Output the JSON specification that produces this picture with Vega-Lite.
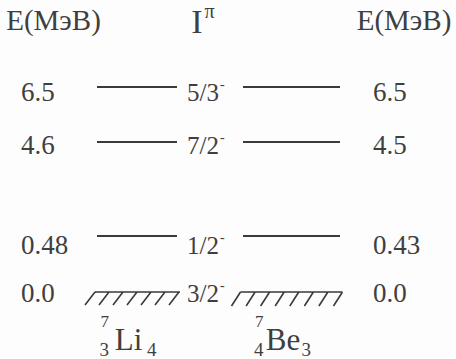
{
  "$schema": "https://vega.github.io/schema/vega-lite/v6.json",
  "width": 456,
  "height": 359,
  "autosize": {"type": "none"},
  "padding": 0,
  "background": "#fdfdfd",
  "config": {
    "view": {"stroke": null},
    "text": {"font": "'Liberation Serif', 'Times New Roman', serif", "color": "#3f3f3f", "baseline": "alphabetic"}
  },
  "datasets": {
    "levels": [
      {"nucleus": "Li", "level": 0, "E": "0.0", "Jp": "3/2", "parity": "-"},
      {"nucleus": "Li", "level": 1, "E": "0.48", "Jp": "1/2", "parity": "-"},
      {"nucleus": "Li", "level": 2, "E": "4.6", "Jp": "7/2", "parity": "-"},
      {"nucleus": "Li", "level": 3, "E": "6.5", "Jp": "5/3", "parity": "-"},
      {"nucleus": "Be", "level": 0, "E": "0.0", "Jp": "3/2", "parity": "-"},
      {"nucleus": "Be", "level": 1, "E": "0.43", "Jp": "1/2", "parity": "-"},
      {"nucleus": "Be", "level": 2, "E": "4.5", "Jp": "7/2", "parity": "-"},
      {"nucleus": "Be", "level": 3, "E": "6.5", "Jp": "5/3", "parity": "-"}
    ],
    "nuclei": [
      {"nucleus": "Li", "symbol": "Li", "A": "7", "Z": "3", "N": "4"},
      {"nucleus": "Be", "symbol": "Be", "A": "7", "Z": "4", "N": "3"}
    ],
    "headers": [
      {"nucleus": "Li", "title": "E(МэВ)"},
      {"nucleus": "Be", "title": "E(МэВ)"}
    ],
    "spin": [
      {"nucleus": "Li", "symbol": "I", "sup": "π"}
    ]
  },
  "encoding": {
    "x": {
      "field": "nucleus",
      "type": "nominal",
      "scale": {"type": "point", "domain": ["Li", "Be"], "range": [137, 291.5], "padding": 0},
      "axis": null
    }
  },
  "resolve": {"scale": {"y": "independent"}},
  "layer": [
    {
      "data": {"name": "levels"},
      "transform": [{"filter": "datum.level > 0"}],
      "mark": {"type": "tick", "orient": "horizontal", "thickness": 1.8, "color": "#3a3a3a", "opacity": 1},
      "encoding": {
        "y": {"field": "level", "type": "quantitative", "axis": null,
              "scale": {"domain": [0, 1, 2, 3], "range": [292, 236, 142, 87], "zero": false, "nice": false}},
        "size": {"field": "nucleus", "type": "nominal", "legend": null,
                 "scale": {"domain": ["Li", "Be"], "range": [80, 97]}}
      }
    },
    {
      "data": {"name": "levels"},
      "transform": [{"filter": "datum.level == 0"}],
      "mark": {"type": "point", "filled": false, "size": 4, "stroke": "#3a3a3a", "strokeWidth": 1.6, "opacity": 1},
      "encoding": {
        "y": {"field": "level", "type": "quantitative", "axis": null,
              "scale": {"domain": [0, 1, 2, 3], "range": [292, 236, 142, 87], "zero": false, "nice": false}},
        "shape": {"field": "nucleus", "type": "nominal", "legend": null,
                  "scale": {"domain": ["Li", "Be"], "range": [
                    "M-42,0H43M-42,0L-52,13M-28,0L-38,13M-14,0L-24,13M0,0L-10,13M14,0L4,13M28,0L18,13M42,0L32,13",
                    "M-51,0H51M-51,0L-60,14M-36.4,0L-45.4,14M-21.9,0L-30.9,14M-7.3,0L-16.3,14M7.3,0L-1.7,14M21.9,0L12.9,14M36.4,0L27.4,14M51,0L42,14"
                  ]}}
      }
    },
    {
      "data": {"name": "levels"},
      "transform": [{"filter": "datum.nucleus == 'Li'"}],
      "mark": {"type": "text", "align": "left", "dx": -116, "fontSize": 27},
      "encoding": {
        "y": {"field": "level", "type": "quantitative", "axis": null,
              "scale": {"domain": [-1, 0, 1, 2, 3, 4], "range": [350, 302, 254, 154, 101, 30], "zero": false, "nice": false}},
        "text": {"field": "E"}
      }
    },
    {
      "data": {"name": "levels"},
      "transform": [{"filter": "datum.nucleus == 'Be'"}],
      "mark": {"type": "text", "align": "left", "dx": 81.5, "fontSize": 27},
      "encoding": {
        "y": {"field": "level", "type": "quantitative", "axis": null,
              "scale": {"domain": [-1, 0, 1, 2, 3, 4], "range": [350, 302, 254, 154, 101, 30], "zero": false, "nice": false}},
        "text": {"field": "E"}
      }
    },
    {
      "data": {"name": "levels"},
      "transform": [{"filter": "datum.nucleus == 'Li'"}],
      "mark": {"type": "text", "align": "left", "dx": 50, "fontSize": 25},
      "encoding": {
        "y": {"field": "level", "type": "quantitative", "axis": null,
              "scale": {"domain": [-1, 0, 1, 2, 3, 4], "range": [350, 302, 254, 154, 101, 30], "zero": false, "nice": false}},
        "text": {"field": "Jp"}
      }
    },
    {
      "data": {"name": "levels"},
      "transform": [{"filter": "datum.nucleus == 'Li'"}],
      "mark": {"type": "text", "align": "left", "dx": 83, "dy": -12, "fontSize": 14},
      "encoding": {
        "y": {"field": "level", "type": "quantitative", "axis": null,
              "scale": {"domain": [-1, 0, 1, 2, 3, 4], "range": [350, 302, 254, 154, 101, 30], "zero": false, "nice": false}},
        "text": {"field": "parity"}
      }
    },
    {
      "data": {"name": "headers"},
      "transform": [{"filter": "datum.nucleus == 'Li'"}],
      "mark": {"type": "text", "align": "center", "dx": -83.5, "fontSize": 29},
      "encoding": {
        "y": {"datum": 4, "type": "quantitative", "axis": null,
              "scale": {"domain": [-1, 0, 1, 2, 3, 4], "range": [350, 302, 254, 154, 101, 30], "zero": false, "nice": false}},
        "text": {"field": "title"}
      }
    },
    {
      "data": {"name": "headers"},
      "transform": [{"filter": "datum.nucleus == 'Be'"}],
      "mark": {"type": "text", "align": "center", "dx": 112.5, "fontSize": 29},
      "encoding": {
        "y": {"datum": 4, "type": "quantitative", "axis": null,
              "scale": {"domain": [-1, 0, 1, 2, 3, 4], "range": [350, 302, 254, 154, 101, 30], "zero": false, "nice": false}},
        "text": {"field": "title"}
      }
    },
    {
      "data": {"name": "spin"},
      "mark": {"type": "text", "align": "center", "dx": 60, "dy": 3, "fontSize": 34},
      "encoding": {
        "y": {"datum": 4, "type": "quantitative", "axis": null,
              "scale": {"domain": [-1, 0, 1, 2, 3, 4], "range": [350, 302, 254, 154, 101, 30], "zero": false, "nice": false}},
        "text": {"field": "symbol"}
      }
    },
    {
      "data": {"name": "spin"},
      "mark": {"type": "text", "align": "center", "dx": 72.5, "dy": -12, "fontSize": 20},
      "encoding": {
        "y": {"datum": 4, "type": "quantitative", "axis": null,
              "scale": {"domain": [-1, 0, 1, 2, 3, 4], "range": [350, 302, 254, 154, 101, 30], "zero": false, "nice": false}},
        "text": {"field": "sup"}
      }
    },
    {
      "data": {"name": "nuclei"},
      "mark": {"type": "text", "align": "center", "dx": -8.5, "fontSize": 31},
      "encoding": {
        "y": {"datum": -1, "type": "quantitative", "axis": null,
              "scale": {"domain": [-1, 0, 1, 2, 3, 4], "range": [350, 302, 254, 154, 101, 30], "zero": false, "nice": false}},
        "text": {"field": "symbol"}
      }
    },
    {
      "data": {"name": "nuclei"},
      "mark": {"type": "text", "align": "right", "dx": -28, "dy": -23, "fontSize": 17},
      "encoding": {
        "y": {"datum": -1, "type": "quantitative", "axis": null,
              "scale": {"domain": [-1, 0, 1, 2, 3, 4], "range": [350, 302, 254, 154, 101, 30], "zero": false, "nice": false}},
        "text": {"field": "A"}
      }
    },
    {
      "data": {"name": "nuclei"},
      "mark": {"type": "text", "align": "right", "dx": -28, "dy": 6, "fontSize": 19},
      "encoding": {
        "y": {"datum": -1, "type": "quantitative", "axis": null,
              "scale": {"domain": [-1, 0, 1, 2, 3, 4], "range": [350, 302, 254, 154, 101, 30], "zero": false, "nice": false}},
        "text": {"field": "Z"}
      }
    },
    {
      "data": {"name": "nuclei"},
      "mark": {"type": "text", "align": "left", "dx": 10, "dy": 6, "fontSize": 19},
      "encoding": {
        "y": {"datum": -1, "type": "quantitative", "axis": null,
              "scale": {"domain": [-1, 0, 1, 2, 3, 4], "range": [350, 302, 254, 154, 101, 30], "zero": false, "nice": false}},
        "text": {"field": "N"}
      }
    }
  ]
}
